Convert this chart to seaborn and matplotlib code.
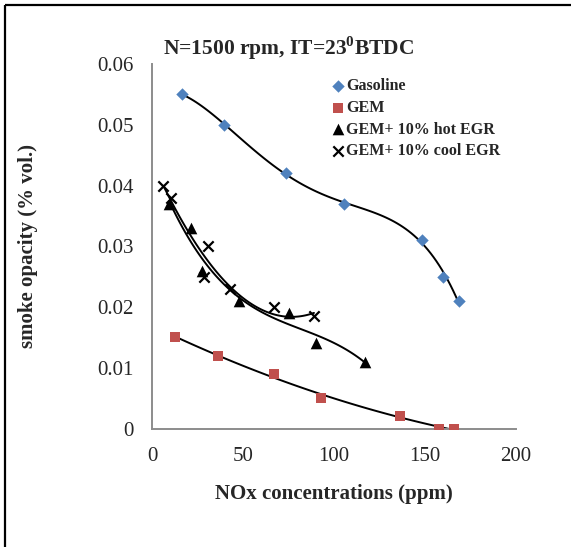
import pandas as pd
import seaborn as sns
import matplotlib.pyplot as plt
from matplotlib.lines import Line2D

# values (NOx ppm, smoke opacity % vol.)
gasoline_nox = [16.6, 39.8, 73.5, 105.5, 148.6, 160.0, 168.5]
gasoline_smoke = [0.055, 0.050, 0.042, 0.037, 0.031, 0.025, 0.021]
gem_nox = [12.7, 36.5, 67.0, 93.0, 136.5, 157.5, 166.0]
gem_smoke = [0.015, 0.012, 0.009, 0.005, 0.002, 0.0, 0.0]
hot_nox = [9.4, 21.7, 27.4, 47.7, 75.0, 90.0, 117.3]
hot_smoke = [0.037, 0.033, 0.026, 0.021, 0.019, 0.014, 0.011]
cool_nox = [6.3, 10.7, 28.7, 30.6, 42.9, 66.9, 89.0]
cool_smoke = [0.040, 0.038, 0.025, 0.030, 0.023, 0.020, 0.0185]

labels = ["Gasoline", "GEM", "GEM+ 10% hot EGR", "GEM+ 10% cool EGR"]
x_ticks = [0, 50, 100, 150, 200]
y_ticks = [0, 0.01, 0.02, 0.03, 0.04, 0.05, 0.06]
y_ticklabels = ["0", "0.01", "0.02", "0.03", "0.04", "0.05", "0.06"]

sns.set_style("white")
plt.rcParams['font.family'] = ['Liberation Serif', 'DejaVu Serif']
plt.rcParams['mathtext.fontset'] = 'custom'
plt.rcParams['mathtext.bf'] = 'Liberation Serif:bold'
plt.rcParams['mathtext.rm'] = 'Liberation Serif:bold'

fig = plt.figure(figsize=(5.71, 5.47), dpi=100)
ax = fig.add_axes([0.2662, 0.2166, 0.6375, 0.6664])

data = [(gasoline_nox, gasoline_smoke), (gem_nox, gem_smoke),
        (hot_nox, hot_smoke), (cool_nox, cool_smoke)]
colors = ["#4F81BD", "#C0504D", "black", "black"]
markers = ["D", "s", "^", "x"]
sizes = [40, 60, 70, 55]
orders = [4, 2, 3, 2]

for (xs, ys), lab, c, m, s, k in zip(data, labels, colors, markers, sizes, orders):
    df = pd.DataFrame({"nox": xs, "smoke": ys})
    sns.regplot(data=df, x="nox", y="smoke", order=k, ci=None, scatter=False,
                color="black", line_kws={"lw": 1.4}, ax=ax)
    if m == "x":
        sns.scatterplot(data=df, x="nox", y="smoke", marker=m, color=c, s=s,
                        linewidth=1.6, label=lab, ax=ax, zorder=3)
    else:
        sns.scatterplot(data=df, x="nox", y="smoke", marker=m, color=c, s=s,
                        linewidth=0, label=lab, ax=ax, zorder=3)

ax.set_xlim(0, 200)
ax.set_ylim(0, 0.06)
ax.set_xticks(x_ticks)
ax.set_yticks(y_ticks)
ax.set_yticklabels(y_ticklabels)
ax.tick_params(length=0, pad=13, labelsize=15)
for sp in ["top", "right"]:
    ax.spines[sp].set_visible(False)
for sp in ["left", "bottom"]:
    ax.spines[sp].set_color("#8c8c8c")
    ax.spines[sp].set_linewidth(1.4)

ax.set_xlabel("NOx concentrations (ppm)", fontsize=15, fontweight="bold")
ax.set_ylabel("smoke opacity (% vol.)", fontsize=15, fontweight="bold")
ax.xaxis.set_label_coords(0.5, -0.152)
ax.yaxis.set_label_coords(-0.313, 0.5)

ax.legend(loc="upper left", bbox_to_anchor=(0.475, 0.978), frameon=False,
          prop={"weight": "bold", "size": 11.5}, handlelength=0.8,
          handletextpad=0.15, labelspacing=0.35, borderaxespad=0)

fig.text(0.285, 0.912, r"N=1500 rpm, IT=23$^{0}$BTDC", fontsize=15.5,
         fontweight="bold", va="center", ha="left")

# outer chart-area frame (only top and left edges fall inside the picture)
fig.add_artist(Line2D([0.00876, 0.00876], [0, 0.99086], transform=fig.transFigure,
                      color="black", lw=1.6, solid_capstyle="butt"))
fig.add_artist(Line2D([0.00876, 1], [0.99086, 0.99086], transform=fig.transFigure,
                      color="black", lw=1.6, solid_capstyle="butt"))

fig.savefig("out.png", dpi=100)
